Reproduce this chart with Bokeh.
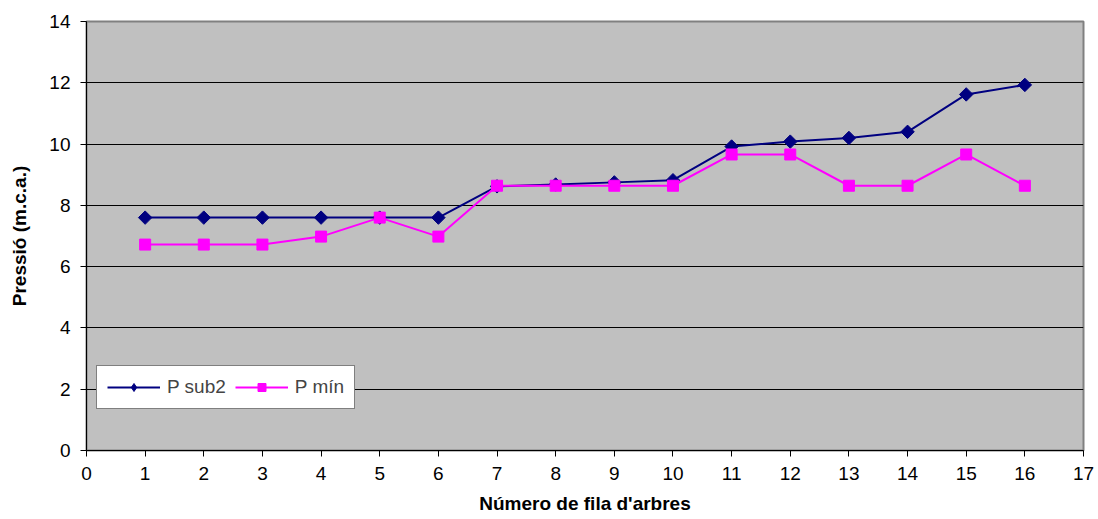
import numpy as np
from bokeh.plotting import figure
from bokeh.models import Legend, LegendItem, FixedTicker, Range1d
from bokeh.embed import file_html
from bokeh.resources import INLINE

rows = list(range(1, 17))
psub2 = [7.6, 7.6, 7.6, 7.6, 7.6, 7.6, 8.62, 8.68, 8.75, 8.82, 9.92, 10.08, 10.2, 10.4, 11.62, 11.93]
pmin = [6.72, 6.72, 6.72, 6.98, 7.6, 6.98, 8.64, 8.64, 8.64, 8.64, 9.66, 9.66, 8.64, 8.64, 9.66, 8.64]
x_ticks = list(range(0, 18))
y_ticks = list(range(0, 15, 2))

FONT = "Liberation Sans"

p = figure(width=1098, height=519, output_backend="svg", toolbar_location=None,
           x_range=Range1d(0, 17), y_range=Range1d(0, 14),
           min_border_left=86, min_border_right=15, min_border_top=21, min_border_bottom=69)

p.background_fill_color = "#C0C0C0"
p.border_fill_color = "white"
p.outline_line_color = "#808080"
p.outline_line_width = 2

p.xgrid.grid_line_color = None
p.ygrid.grid_line_color = "black"
p.ygrid.grid_line_width = 1

for ax in (p.xaxis[0], p.yaxis[0]):
    ax.axis_line_color = "black"
    ax.major_tick_line_color = "black"
    ax.major_tick_out = 6
    ax.major_tick_in = 0
    ax.minor_tick_line_color = None
    ax.major_label_text_font = FONT
    ax.major_label_text_font_size = "19px"
    ax.major_label_text_color = "black"
    ax.axis_label_text_font = FONT
    ax.axis_label_text_font_size = "19px"
    ax.axis_label_text_font_style = "bold"
    ax.axis_label_text_color = "black"

p.xaxis.ticker = FixedTicker(ticks=x_ticks)
p.yaxis.ticker = FixedTicker(ticks=y_ticks)
p.xaxis.major_label_standoff = 10
p.yaxis.major_label_standoff = 10
p.xaxis.axis_label = "Número de fila d'arbres"
p.yaxis.axis_label = "Pressió (m.c.a.)"
p.xaxis.axis_label_standoff = 10
p.yaxis.axis_label_standoff = 16

l1 = p.line(rows, psub2, line_color="#000080", line_width=2)
m1 = p.scatter(rows, psub2, marker="square", angle=np.pi / 4, size=9.5,
               fill_color="#000080", line_color="#000080")
l2 = p.line(rows, pmin, line_color="#FF00FF", line_width=2)
m2 = p.scatter(rows, pmin, marker="square", size=11,
               fill_color="#FF00FF", line_color="#FF00FF")

# legend-only marker (diamond shape in the legend), not drawn in the plot
d1 = p.scatter([float("nan")], [float("nan")], marker="diamond", size=15,
               fill_color="#000080", line_color="#000080")

legend = Legend(items=[LegendItem(label="P sub2", renderers=[l1, d1]),
                       LegendItem(label="P mín", renderers=[l2, m2])],
                orientation="horizontal", location=(10, 41),
                label_text_font=FONT, label_text_font_size="19px",
                glyph_width=53, glyph_height=20, label_standoff=7, spacing=9,
                padding=10, margin=0,
                border_line_color="black", border_line_width=1,
                background_fill_color="white", background_fill_alpha=1)
p.add_layout(legend)

open("out.html", "w").write(file_html(p, INLINE))
